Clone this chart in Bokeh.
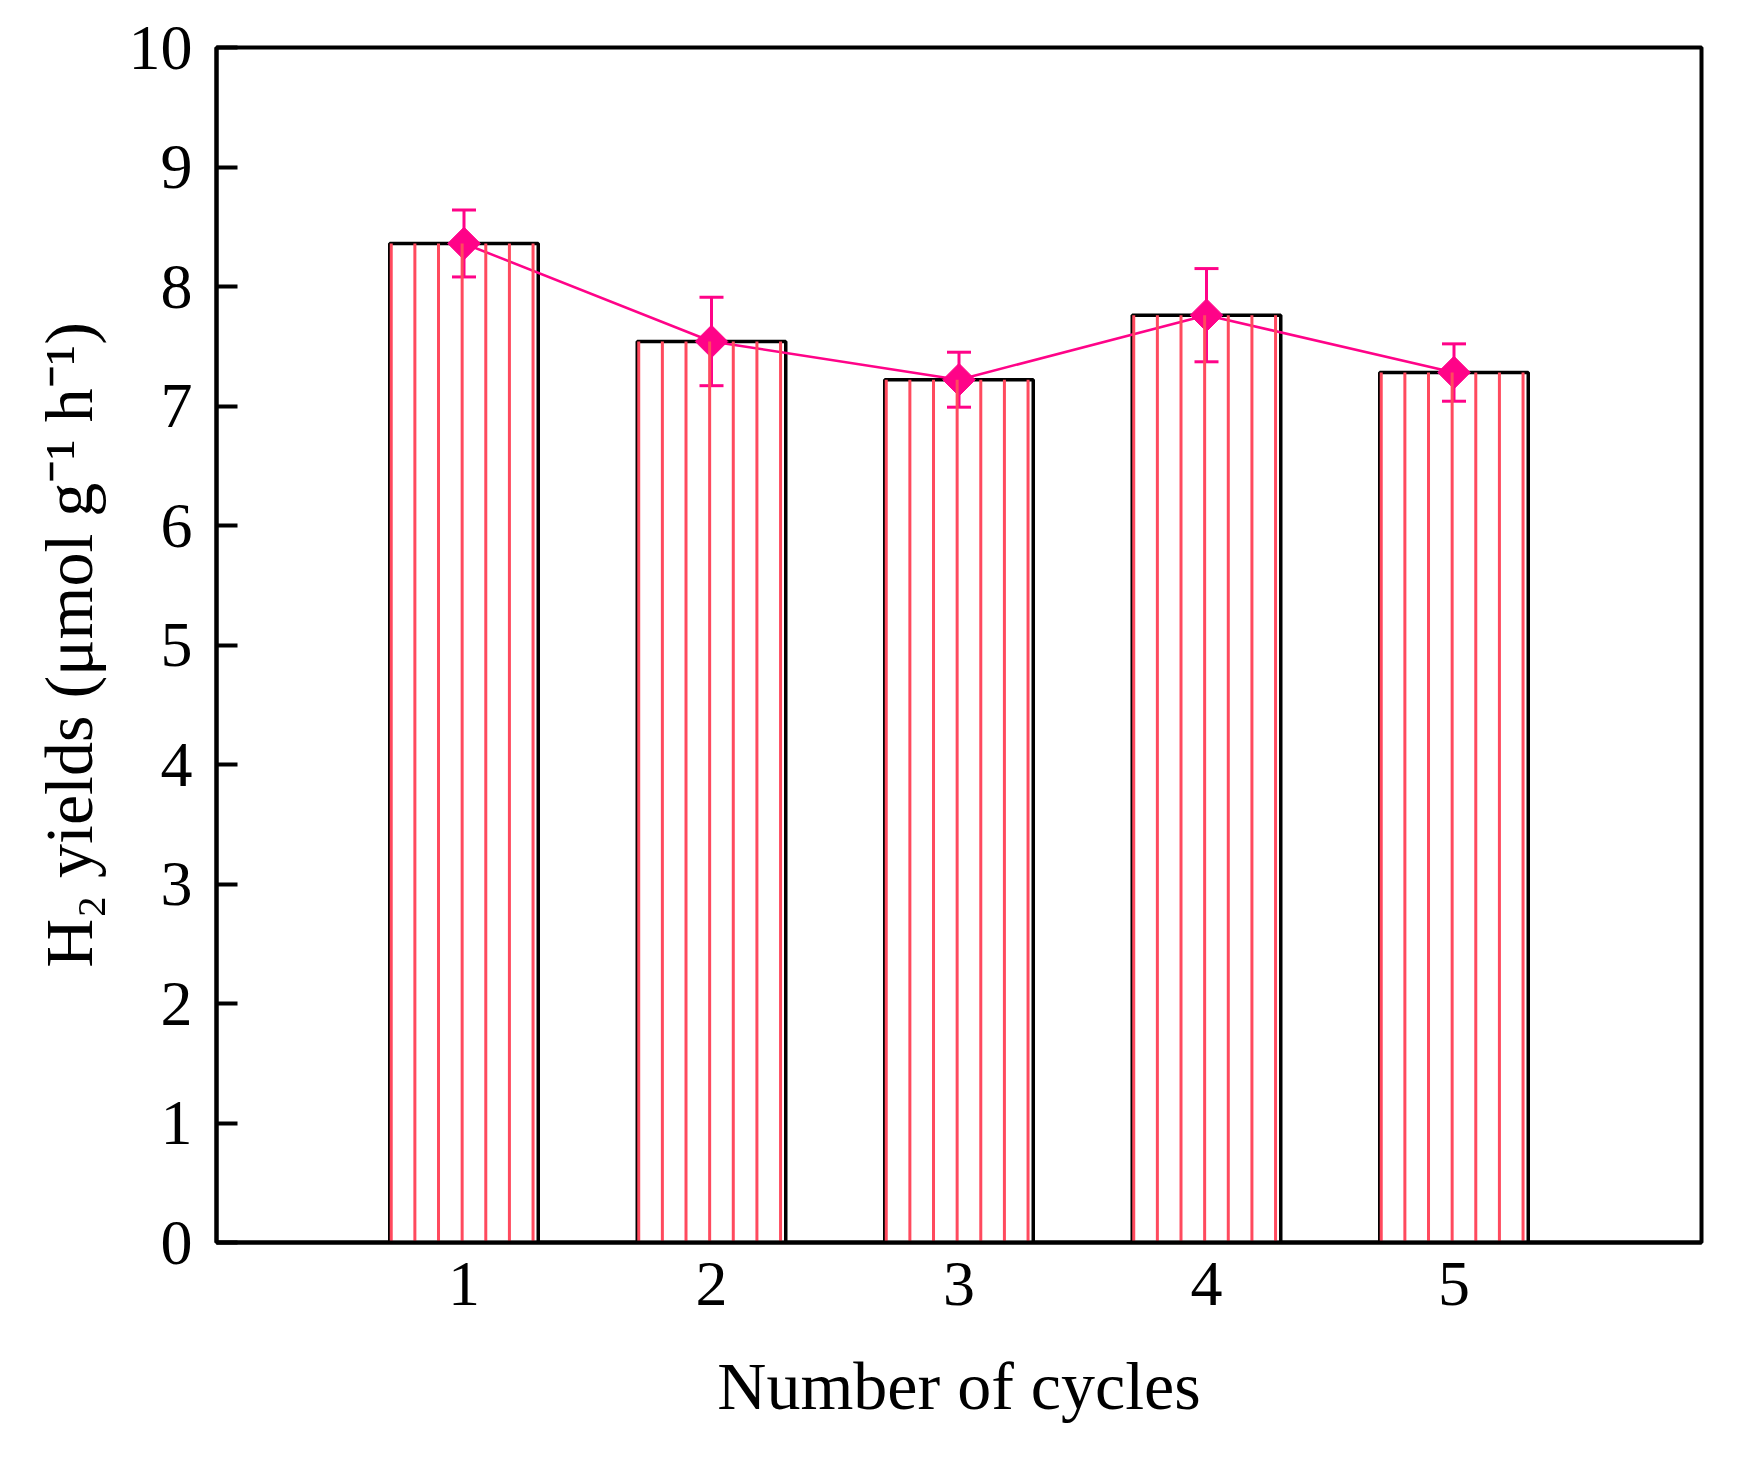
import numpy as np
from bokeh.plotting import figure
from bokeh.models import FixedTicker, ColumnDataSource, Range1d
from bokeh.embed import file_html
from bokeh.resources import INLINE

# ---- data ----
cycles = [1, 2, 3, 4, 5]
yields = [8.36, 7.54, 7.22, 7.76, 7.28]
errors = [0.28, 0.37, 0.23, 0.39, 0.24]
y_ticks = [0, 1, 2, 3, 4, 5, 6, 7, 8, 9, 10]
x_ticks = [1, 2, 3, 4, 5]
x_label = "Number of cycles"
y_label = "H\u2082 yields (\u03bcmol g\u207b\u00b9 h\u207b\u00b9)"

# ---- style ----
MAGENTA = "#FF0388"
HATCH = "#FF4A5E"
FONT = "Liberation Serif"
bar_width = 0.6
hatch_step = 0.0955
hatch_offset = 0.006
n_hatch = 7

p = figure(frame_width=1485, frame_height=1195,
           x_range=Range1d(0, 6), y_range=Range1d(0, 10),
           output_backend="svg", toolbar_location=None,
           min_border_left=216, min_border_top=47,
           min_border_right=10, min_border_bottom=190)

p.background_fill_color = "white"
p.border_fill_color = "white"
p.outline_line_color = "black"
p.outline_line_width = 4
p.grid.visible = False

src = ColumnDataSource(dict(x=cycles, top=yields,
                            upper=[v + e for v, e in zip(yields, errors)],
                            lower=[v - e for v, e in zip(yields, errors)]))

# bars
p.vbar(x="x", top="top", width=bar_width, source=src,
       fill_color="white", line_color="black", line_width=3.5)

# connecting line
p.line(x="x", y="top", source=src, line_color=MAGENTA, line_width=2.5)

# error bars (stems + caps)
p.segment(x0="x", y0="lower", x1="x", y1="upper", source=src,
          line_color=MAGENTA, line_width=3)
p.scatter(x="x", y="upper", source=src, marker="dash", size=24,
          line_color=MAGENTA, line_width=3)
p.scatter(x="x", y="lower", source=src, marker="dash", size=24,
          line_color=MAGENTA, line_width=3)

# markers
p.scatter(x="x", y="top", source=src, marker="square", size=23,
          angle=np.pi / 4, fill_color=MAGENTA, line_color=MAGENTA)

# hatch lines (derived from bar data)
hx, htop = [], []
for c, v in zip(cycles, yields):
    for k in range(n_hatch):
        hx.append(c - bar_width / 2 + hatch_offset + k * hatch_step)
        htop.append(v)
p.segment(x0=hx, y0=[0] * len(hx), x1=hx, y1=htop,
          line_color=HATCH, line_width=3)

# axes
xa = p.xaxis[0]
xa.ticker = FixedTicker(ticks=x_ticks)
xa.minor_tick_line_color = None
xa.major_tick_in = 0
xa.major_tick_out = 0
xa.axis_line_width = 4
xa.axis_line_color = "black"
xa.major_label_text_font = FONT
xa.major_label_text_font_size = "64px"
xa.major_label_text_color = "black"
xa.major_label_standoff = 20
xa.axis_label = x_label
xa.axis_label_text_font = FONT
xa.axis_label_text_font_size = "68px"
xa.axis_label_text_font_style = "normal"
xa.axis_label_text_color = "black"
xa.axis_label_standoff = 40

ya = p.yaxis[0]
ya.ticker = FixedTicker(ticks=y_ticks)
ya.minor_tick_line_color = None
ya.major_tick_in = 21
ya.major_tick_out = 0
ya.major_tick_line_width = 4
ya.major_tick_line_color = "black"
ya.axis_line_width = 4
ya.axis_line_color = "black"
ya.major_label_text_font = FONT
ya.major_label_text_font_size = "64px"
ya.major_label_text_color = "black"
ya.major_label_standoff = 24
ya.axis_label = y_label
ya.axis_label_text_font = FONT
ya.axis_label_text_font_size = "68px"
ya.axis_label_text_font_style = "normal"
ya.axis_label_text_color = "black"
ya.axis_label_standoff = 19

open("out.html", "w").write(file_html(p, INLINE))
